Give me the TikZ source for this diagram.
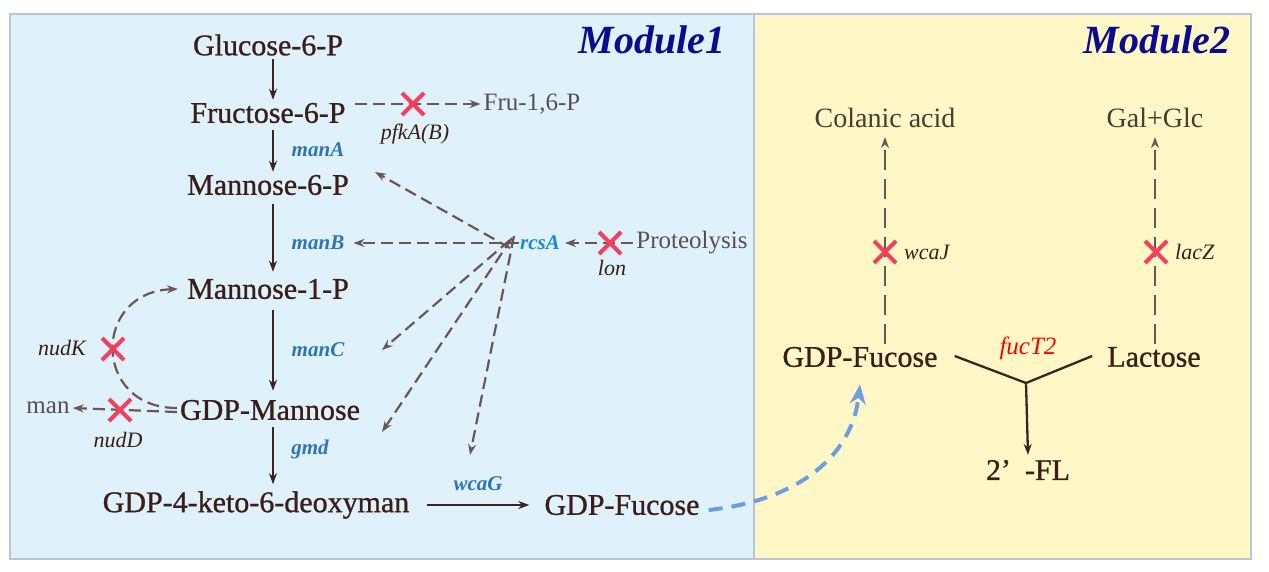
\documentclass[tikz,border=0pt]{standalone}
\usepackage{fontspec}
\setmainfont{Liberation Serif}
\newfontfamily\metfont{Liberation Serif}[FakeBold=0.9]
\usetikzlibrary{arrows.meta,shapes.misc,calc}
\definecolor{bluebg}{HTML}{DFF1FB}
\definecolor{yellowbg}{HTML}{FFF8C6}
\definecolor{panelb}{HTML}{B9C3DD}
\definecolor{metc}{HTML}{3A1E18}
\definecolor{greyc}{HTML}{585050}
\definecolor{brc}{HTML}{4A3A30}
\definecolor{geneblue}{HTML}{2E75B6}
\definecolor{rcsblue}{HTML}{1A8AD8}
\definecolor{arrc}{HTML}{3B2420}
\definecolor{dashc}{HTML}{6A5656}
\definecolor{xred}{HTML}{F0405E}
\definecolor{curveblue}{HTML}{6F9EE0}
\definecolor{modblue}{HTML}{0B0B8F}
\newcommand\myfs[1]{\fontsize{#1}{#1}\selectfont}
\begin{document}
\begin{tikzpicture}[x=1pt,y=-1pt,
  met/.style={font=\metfont\myfs{30}, text=metc, inner sep=3pt},
  side/.style={font=\myfs{25}, text=greyc, inner sep=3pt},
  prod/.style={font=\myfs{28}, text=brc, inner sep=3pt},
  gene/.style={font=\myfs{21}\bfseries\itshape, text=geneblue, inner sep=1pt},
  ital/.style={font=\myfs{22}\itshape, text=metc, inner sep=1pt},
  modlbl/.style={font=\myfs{40}\bfseries\itshape, text=modblue},
  arr/.style={draw=arrc, line width=2.3pt, -{Stealth[length=11pt,width=8pt]}},
  ln/.style={draw=arrc, line width=2.3pt},
  darr/.style={draw=dashc, line width=2.2pt, dash pattern=on 12pt off 6pt, -{Stealth[length=11pt,width=8pt]}},
  vdarr/.style={draw=dashc, line width=2.2pt, dash pattern=on 20pt off 9pt, -{Stealth[length=11pt,width=8pt]}},
  xm/.style={draw=xred, cross out, line width=4pt, minimum size=18pt, inner sep=0pt},
  bluedash/.style={draw=curveblue, line width=4pt, dash pattern=on 14pt off 9pt, -{Stealth[length=20pt,width=16pt]}}
]
\useasboundingbox (0,0) rectangle (1269,571);
\fill[white] (0,0) rectangle (1269,571);
\draw[fill=bluebg, draw=panelb, line width=2pt] (10,14) rectangle (754,559);
\draw[fill=yellowbg, draw=panelb, line width=2pt] (754,14) rectangle (1251,559);

\node[modlbl] (mod1) at (652,40) {Module1};
\node[modlbl] (mod2) at (1157,40) {Module2};

% Module 1 metabolites
\node[met] (glu) at (268,45) {Glucose-6-P};
\node[met] (fru) at (268,113) {Fructose-6-P};
\node[met] (m6p) at (268,185) {Mannose-6-P};
\node[met] (m1p) at (268,289) {Mannose-1-P};
\node[met] (gman) at (270,410) {GDP-Mannose};
\node[met] (keto) at (256,505) {GDP-4-keto-6-deoxyman};
\node[met] (gf1) at (622,505) {GDP-Fucose};

\node[side] (fru16) at (532,104) {Fru-1,6-P};
\node[side] (prot) at (692,243) {Proteolysis};
\node[side] (man) at (48,408) {man};

\node[gene] (manA) at (318,150) {manA};
\node[gene] (manB) at (318,243) {manB};
\node[gene] (manC) at (318,350) {manC};
\node[gene] (gmd) at (310,449) {gmd};
\node[gene] (wcaG) at (478,484) {wcaG};
\node[gene, text=rcsblue] (rcsa) at (540,243) {rcsA};

\node[ital] (pfk) at (415,134) {pfkA(B)};
\node[ital] (lon) at (612,268) {lon};
\node[ital] (nudK) at (62,348) {nudK};
\node[ital] (nudD) at (118,440) {nudD};

% main pathway arrows
\coordinate (ax) at (273,0);
\draw[arr] (ax |- glu.south) -- (ax |- fru.north);
\draw[arr] ([yshift=-4pt]ax |- fru.south) -- (ax |- m6p.north);
\draw[arr] ([yshift=-6pt]ax |- m6p.south) -- ([yshift=4pt]ax |- m1p.north);
\draw[arr] ([yshift=-8pt]ax |- m1p.south) -- ([yshift=6pt]ax |- gman.north);
\draw[arr] ([yshift=-4pt]ax |- gman.south) -- ([yshift=4pt]ax |- keto.north);
\draw[arr] ([xshift=14pt]keto.east) -- ([xshift=-12pt]gf1.west);

% side reactions
\draw[darr] ([xshift=6pt]fru.east |- fru16.west) -- (fru16.west);
\node[xm] (x1) at (413,104) {};
\draw[darr] (prot.west) -- ([xshift=4pt]rcsa.east);
\node[xm] (x2) at (610,243) {};
\draw[darr] ([yshift=-2pt]gman.west) -- (man.east);
\node[xm] (x3) at (120,410) {};
\draw[darr] ([yshift=2pt]gman.west) .. controls (92,408) and (92,292) .. ([xshift=-6pt]m1p.west);
\node[xm] (x4) at (113,349) {};

% rcsA regulation
\coordinate (rc) at (510,244);
\coordinate (t1) at (375,172);
\coordinate (t3) at (382,350);
\coordinate (t4) at (382,432);
\coordinate (t5) at (470,455);
\draw[darr] ([yshift=-4pt]rc) -- (t1);
\draw[darr] (rcsa.west) -- ([xshift=8pt]manB.east);
\draw[darr] ([yshift=4pt]rc) -- (t3);
\draw[darr] ([xshift=2pt,yshift=6pt]rc) -- (t4);
\draw[darr] ([xshift=4pt,yshift=8pt]rc) -- (t5);

% Module 2
\node[prod] (colanic) at (885,118) {Colanic acid};
\node[prod] (galglc) at (1155,118) {Gal+Glc};
\node[met] (gf2) at (860,357) {GDP-Fucose};
\node[met] (lac) at (1154,357) {Lactose};
\node[font=\myfs{25}\itshape, text=red, inner sep=1pt] (fuct) at (1028,348) {fucT2};
\node[met] (fl) at (1028,470) {2’\hspace{14pt}-FL};

\draw[vdarr] (colanic.south |- gf2.north) -- ([yshift=-6pt]colanic.south);
\draw[vdarr] (galglc.south |- lac.north) -- ([yshift=-6pt]galglc.south);
\node[xm] (x5) at (885,252) {};
\node[xm] (x6) at (1156,252) {};
\node[ital, anchor=west] (wcaJ) at (903,252) {wcaJ};
\node[ital, anchor=west] (lacZ) at (1174,252) {lacZ};

\coordinate (j) at (1026,383);
\draw[ln] ([xshift=14pt,yshift=1pt]gf2.east) -- (j) -- ([xshift=-12pt,yshift=1pt]lac.west);
\draw[arr] (j) -- ([yshift=2pt]fl.north);

\draw[bluedash] ([xshift=6pt,yshift=-5pt]gf1.east) .. controls (800,500) and (852,455) .. ([yshift=-14pt]gf2.south);
\end{tikzpicture}
\end{document}
